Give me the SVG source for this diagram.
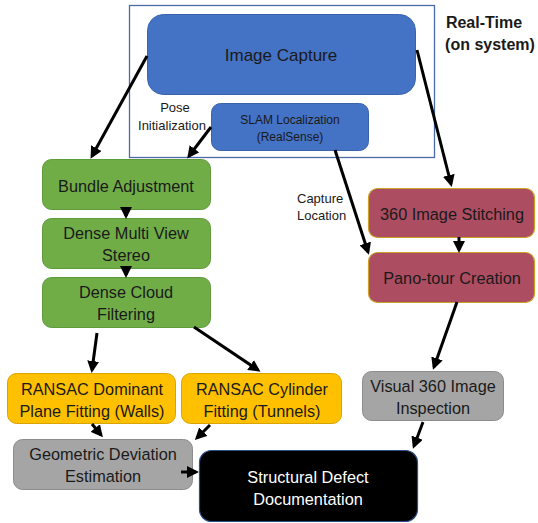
<svg xmlns="http://www.w3.org/2000/svg" width="538" height="523" viewBox="0 0 538 523">
<style>
text{font-family:"Liberation Sans",Arial,sans-serif;text-anchor:middle;fill:#1a1a1a}
.t16{font-size:16.3px}
.t12{font-size:12px}
.t13{font-size:13px}
.blue{fill:#4472C4;stroke:#3a63ad;stroke-width:1}
.green{fill:#70AD47;stroke:#5f9a3b;stroke-width:1}
.red{fill:#AD4D61;stroke:#C9A227;stroke-width:1.2}
.yellow{fill:#FFC000;stroke:#d9a300;stroke-width:1}
.gray{fill:#A5A5A5;stroke:#8c8c8c;stroke-width:1}
.black{fill:#000;stroke:#2f4f8a;stroke-width:1.2}
.con line{stroke:#000;stroke-width:3;marker-end:url(#ah)}
</style>
<defs>
<marker id="ah" markerWidth="4" markerHeight="4" refX="3" refY="2" orient="auto" markerUnits="strokeWidth">
<path d="M0,0 L4,2 L0,4 Z" fill="#000"/>
</marker>
</defs>
<rect width="538" height="523" fill="#fff"/>
<g id="realtime-frame">
<rect x="129.5" y="5.5" width="305" height="152" fill="none" stroke="#4a6aa8" stroke-width="1.3"/>
<text x="484" y="28" style="font-size:16px;font-weight:bold">Real-Time</text>
<text x="490" y="50" style="font-size:16px;font-weight:bold">(on system)</text>
</g>
<g id="image-capture">
<rect class="blue" x="147.5" y="14.5" width="268" height="80" rx="16"/>
<text x="281" y="61" style="font-size:17px">Image Capture</text>
</g>
<g id="slam">
<rect class="blue" x="211.5" y="103.5" width="157" height="47" rx="9"/>
<text class="t12" x="290" y="124">SLAM Localization</text>
<text class="t12" x="290" y="141">(RealSense)</text>
</g>
<g id="bundle-adjustment">
<rect class="green" x="42.5" y="159.5" width="168" height="50" rx="9"/>
<text class="t16" x="126" y="192">Bundle Adjustment</text>
</g>
<g id="dense-mvs">
<rect class="green" x="42.5" y="218.5" width="168" height="50" rx="9"/>
<text class="t16" x="126" y="239">Dense Multi View</text>
<text class="t16" x="126" y="261">Stereo</text>
</g>
<g id="dense-cloud">
<rect class="green" x="42.5" y="277.5" width="168" height="50" rx="9"/>
<text class="t16" x="126" y="298">Dense Cloud</text>
<text class="t16" x="126" y="320">Filtering</text>
</g>
<g id="stitching">
<rect class="red" x="368.5" y="188.5" width="166" height="49" rx="9"/>
<text class="t16" x="452" y="220">360 Image Stitching</text>
</g>
<g id="pano-tour">
<rect class="red" x="368.5" y="252.5" width="166" height="50" rx="9"/>
<text class="t16" x="452" y="284">Pano-tour Creation</text>
</g>
<g id="ransac-plane">
<rect class="yellow" x="7.5" y="373.5" width="168" height="50" rx="9"/>
<text class="t16" x="92" y="395">RANSAC Dominant</text>
<text class="t16" x="92" y="417">Plane Fitting (Walls)</text>
</g>
<g id="ransac-cylinder">
<rect class="yellow" x="181.5" y="373.5" width="160" height="50" rx="9"/>
<text class="t16" x="262" y="395">RANSAC Cylinder</text>
<text class="t16" x="262" y="417">Fitting (Tunnels)</text>
</g>
<g id="visual-inspection">
<rect class="gray" x="362.5" y="371.5" width="141" height="49" rx="9"/>
<text class="t16" x="433" y="392">Visual 360 Image</text>
<text class="t16" x="433" y="414">Inspection</text>
</g>
<g id="geometric-deviation">
<rect class="gray" x="13.5" y="439.5" width="179" height="50" rx="9"/>
<text class="t16" x="103" y="460">Geometric Deviation</text>
<text class="t16" x="103" y="482">Estimation</text>
</g>
<g id="structural-defect">
<rect class="black" x="199.5" y="450.5" width="218" height="71" rx="12"/>
<text class="t16" x="308" y="483" style="fill:#fff">Structural Defect</text>
<text class="t16" x="308" y="505" style="fill:#fff">Documentation</text>
</g>
<g id="labels">
<text class="t13" x="175" y="112">Pose</text>
<text class="t13" x="172" y="130">Initialization</text>
<text class="t13" x="297" y="203" style="text-anchor:start">Capture</text>
<text class="t13" x="297" y="220" style="text-anchor:start">Location</text>
</g>
<g id="connectors" class="con">
<line x1="147" y1="56" x2="92" y2="156"/>
<line x1="211" y1="127" x2="189" y2="156"/>
<line x1="417" y1="50" x2="451" y2="184"/>
<line x1="335" y1="150" x2="368" y2="252"/>
<line x1="126" y1="210" x2="126" y2="216"/>
<line x1="126" y1="269" x2="126" y2="275"/>
<line x1="459" y1="237" x2="459" y2="250"/>
<line x1="457" y1="302" x2="434" y2="367"/>
<line x1="97" y1="333" x2="92" y2="370"/>
<line x1="194" y1="327" x2="258" y2="370"/>
<line x1="92" y1="424" x2="101" y2="435"/>
<line x1="210" y1="425" x2="197" y2="438"/>
<line x1="423" y1="422" x2="414" y2="446"/>
<line x1="181" y1="472" x2="196" y2="472"/>
</g>
</svg>
